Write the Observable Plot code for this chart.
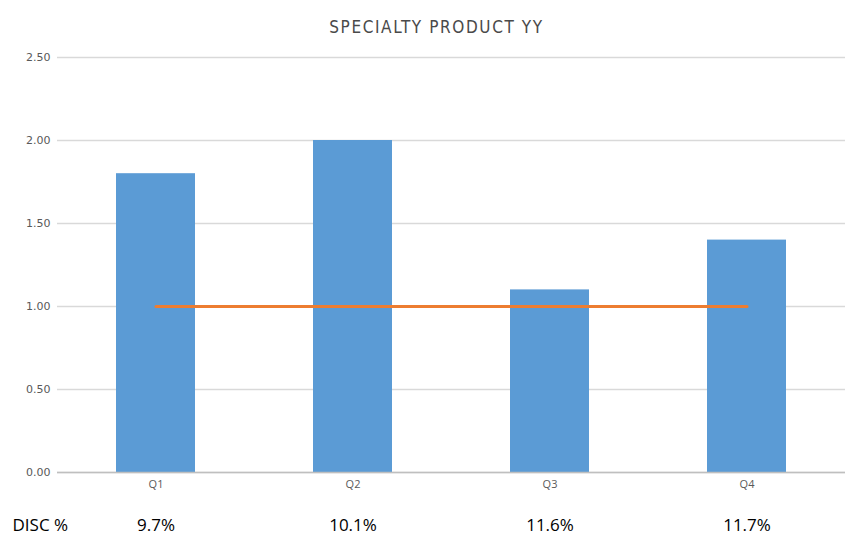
<!DOCTYPE html>
<html>
<head>
<meta charset="utf-8">
<script src="https://cdn.jsdelivr.net/npm/d3@7"></script>
<script src="https://cdn.jsdelivr.net/npm/@observablehq/plot@0.6"></script>
<style>
  html, body { margin: 0; padding: 0; background: #fff; }
  #chart { width: 846px; height: 542px; }
  .chart-title { letter-spacing: 1.6px; }
</style>
</head>
<body>
<div id="chart"></div>
<script>
// Quarterly specialty product index with discount share per quarter
const quarters = ["Q1", "Q2", "Q3", "Q4"];
const values = [1.80, 2.00, 1.10, 1.40];
const target = [1.00, 1.00, 1.00, 1.00];
const discPct = ["9.7%", "10.1%", "11.6%", "11.7%"];
const yTicks = [0, 0.5, 1, 1.5, 2, 2.5];
const titleText = "SPECIALTY PRODUCT YY";
const rowLabel = "DISC %";

const rows = quarters.map((q, i) => ({quarter: q, value: values[i], target: target[i], disc: discPct[i]}));

const sans = "'Open Sans', 'Noto Sans', sans-serif";
const condensed = "'DejaVu Sans Condensed', 'DejaVu Sans', sans-serif";

const chart = Plot.plot({
  width: 846,
  height: 542,
  marginTop: 57,
  marginBottom: 70,
  marginLeft: 57,
  marginRight: 1,
  style: {fontFamily: sans, background: "#fff"},
  x: {domain: quarters, paddingInner: 0.6, paddingOuter: 0.3, label: null},
  y: {domain: [0, 2.5], label: null},
  marks: [
    Plot.gridY(yTicks, {stroke: "#d9d9d9", strokeOpacity: 1, strokeWidth: 1.5}),
    Plot.axisY(yTicks, {
      tickSize: 0, tickPadding: 7, tickFormat: d3.format(".2f"),
      fill: "#595959", fontSize: 11, fontFamily: "'DejaVu Sans', sans-serif", label: null
    }),
    Plot.barY(rows, {x: "quarter", y: "value", fill: "#5b9bd5"}),
    Plot.ruleY([0], {stroke: "#bfbfbf", strokeWidth: 1.5}),
    Plot.line(rows, {x: "quarter", y: "target", stroke: "#ed7d31", strokeWidth: 3}),
    Plot.axisX({tickSize: 0, tickPadding: 8, fill: "#595959", fontSize: 11, label: null}),
    // title above the plot area
    Plot.text([titleText], {
      frameAnchor: "top", dx: -15, dy: -37, fontSize: 17, fill: "#4a4a4a",
      fontFamily: condensed, className: "chart-title", text: d => d
    }),
    // discount row under the axis
    Plot.text([rowLabel], {
      frameAnchor: "bottom-left", dx: -45, dy: 58, textAnchor: "start",
      fontSize: 17, fill: "#000", text: d => d
    }),
    Plot.text(rows, {
      x: "quarter", frameAnchor: "bottom", dy: 58, text: "disc",
      fontSize: 17, fill: "#000"
    })
  ]
});

document.getElementById("chart").append(chart);
</script>
</body>
</html>
